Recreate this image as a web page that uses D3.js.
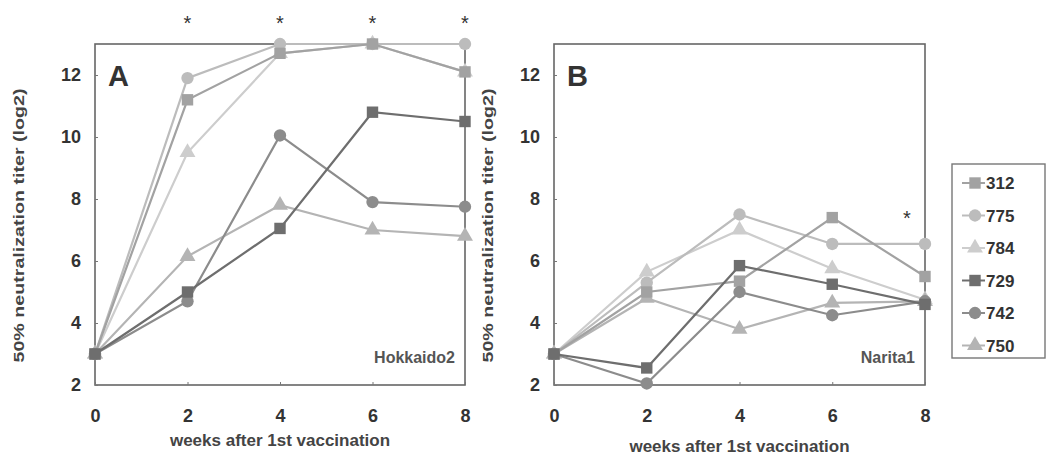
<!DOCTYPE html>
<html>
<head>
<meta charset="utf-8">
<script src="https://cdn.jsdelivr.net/npm/d3@7"></script>
<style>
  body { margin: 0; background: #fff; }
  svg { display: block; }
  text { font-family: "Liberation Sans", Arial, sans-serif; }
</style>
</head>
<body>
<svg id="chart" width="1047" height="475"></svg>
<script>
// ---- data ----
const weeks = [0, 2, 4, 6, 8];
const yTicks = [2, 4, 6, 8, 10, 12];
const xTicks = [0, 2, 4, 6, 8];
const seriesNames = ["312", "775", "784", "729", "742", "750"];
const seriesShapes = ["square", "circle", "triangle", "square", "circle", "triangle"];
const seriesColors = ["#a2a2a2", "#bcbcbc", "#cdcdcd", "#6e6e6e", "#8c8c8c", "#b4b4b4"];

// Panel A: Hokkaido2
const a312 = [3, 11.2, 12.7, 13, 12.1];
const a775 = [3, 11.9, 13, 13, 13];
const a784 = [3, 9.5, 12.7, 13, 12.1];
const a729 = [3, 5.0, 7.05, 10.8, 10.5];
const a742 = [3, 4.7, 10.05, 7.9, 7.75];
const a750 = [3, 6.15, 7.8, 7.0, 6.8];
const starsA = [2, 4, 6, 8];

// Panel B: Narita1
const b312 = [3, 5.0, 5.35, 7.4, 5.5];
const b775 = [3, 5.3, 7.5, 6.55, 6.55];
const b784 = [3, 5.65, 7.0, 5.75, 4.75];
const b729 = [3, 2.55, 5.85, 5.25, 4.6];
const b742 = [3, 2.05, 5.0, 4.25, 4.7];
const b750 = [3, 4.8, 3.8, 4.65, 4.7];
const starsB = [8];

const panelAValues = [a312, a775, a784, a729, a742, a750];
const panelBValues = [b312, b775, b784, b729, b742, b750];

// ---- drawing ----
const svg = d3.select("#chart");
const drawOrder = [2, 5, 1, 0, 4, 3];
const shapeMap = { square: d3.symbolSquare, circle: d3.symbolCircle, triangle: d3.symbolTriangle };
const shapeSize = { square: 130, circle: 120, triangle: 110 };

function drawPanel(cfg) {
  const x = d3.scaleLinear().domain([0, 8]).range([cfg.left, cfg.right]);
  const y = d3.scaleLinear().domain([2, 13]).range([cfg.bottom, cfg.top]);
  const g = svg.append("g");

  // frame
  g.append("rect")
    .attr("x", cfg.left).attr("y", cfg.top)
    .attr("width", cfg.right - cfg.left).attr("height", cfg.bottom - cfg.top)
    .attr("fill", "none").attr("stroke", "#666").attr("stroke-width", 1.6);

  // y axis
  const yAxis = d3.axisLeft(y).tickValues(yTicks).tickSize(-3).tickPadding(14).tickFormat(d3.format("d"));
  const ya = g.append("g").attr("transform", `translate(${cfg.left},0)`).call(yAxis);
  ya.select(".domain").remove();
  ya.selectAll("line").attr("stroke", "#777");
  ya.selectAll("text").attr("font-size", 18).attr("font-weight", "bold").attr("fill", "#333");

  // x axis
  const xAxis = d3.axisBottom(x).tickValues(xTicks).tickSize(-3).tickPadding(24).tickFormat(d3.format("d"));
  const xa = g.append("g").attr("transform", `translate(0,${cfg.bottom})`).call(xAxis);
  xa.select(".domain").remove();
  xa.selectAll("line").attr("stroke", "#777");
  xa.selectAll("text").attr("font-size", 18).attr("font-weight", "bold").attr("fill", "#333");

  // axis titles
  g.append("text")
    .attr("x", (cfg.left + cfg.right) / 2).attr("y", cfg.xTitleY)
    .attr("text-anchor", "middle").attr("font-size", 17).attr("font-weight", "bold").attr("fill", "#444")
    .text("weeks after 1st vaccination");
  g.append("text")
    .attr("transform", `translate(${cfg.yTitleX},${(cfg.top + cfg.bottom) / 2 + 11}) rotate(-90)`)
    .attr("text-anchor", "middle").attr("font-size", 14.5).attr("font-weight", "bold").attr("fill", "#444")
    .attr("textLength", 274).attr("lengthAdjust", "spacingAndGlyphs")
    .text("50% neutralization titer (log2)");

  // panel letter and strain name
  g.append("text").attr("x", cfg.left + 13).attr("y", y(12) + 11)
    .attr("font-size", 29).attr("font-weight", "bold").attr("fill", "#333").text(cfg.letter);
  g.append("text").attr("x", cfg.right - 10).attr("y", cfg.bottom - 22)
    .attr("text-anchor", "end").attr("font-size", 16).attr("font-weight", "bold").attr("fill", "#555").text(cfg.strain);

  // series
  const line = d3.line().x((d, i) => x(weeks[i])).y(d => y(d));
  drawOrder.forEach(si => {
    const vals = cfg.values[si];
    g.append("path").datum(vals).attr("d", line)
      .attr("fill", "none").attr("stroke", seriesColors[si]).attr("stroke-width", 2.2);
    g.selectAll(null).data(vals).enter().append("path")
      .attr("transform", (d, i) => `translate(${x(weeks[i])},${y(d)})`)
      .attr("d", d3.symbol().type(shapeMap[seriesShapes[si]]).size(shapeSize[seriesShapes[si]]))
      .attr("fill", seriesColors[si]);
  });

  // significance stars
  g.selectAll(null).data(cfg.stars).enter().append("text")
    .attr("x", d => x(d) + cfg.starDx).attr("y", cfg.starY)
    .attr("text-anchor", "middle").attr("font-size", 20).attr("fill", "#333").text("*");
}

drawPanel({
  left: 95, right: 465, top: 44, bottom: 385,
  values: panelAValues, letter: "A", strain: "Hokkaido2",
  xTitleY: 446, yTitleX: 24, stars: starsA, starY: 30, starDx: 0
});
drawPanel({
  left: 554, right: 925, top: 44, bottom: 385,
  values: panelBValues, letter: "B", strain: "Narita1",
  xTitleY: 452, yTitleX: 493, stars: starsB, starY: 225, starDx: -18
});

// legend
const leg = svg.append("g");
leg.append("rect").attr("x", 952).attr("y", 164).attr("width", 93).attr("height", 194)
  .attr("fill", "none").attr("stroke", "#777").attr("stroke-width", 1.4);
seriesNames.forEach((name, i) => {
  const cy = 183 + i * 32.5;
  leg.append("line").attr("x1", 962).attr("x2", 985).attr("y1", cy).attr("y2", cy)
    .attr("stroke", seriesColors[i]).attr("stroke-width", 2);
  leg.append("path").attr("transform", `translate(975,${cy})`)
    .attr("d", d3.symbol().type(shapeMap[seriesShapes[i]]).size(shapeSize[seriesShapes[i]]))
    .attr("fill", seriesColors[i]);
  leg.append("text").attr("x", 986).attr("y", cy + 6)
    .attr("font-size", 17).attr("font-weight", "bold").attr("fill", "#333").text(name);
});
</script>
</body>
</html>
